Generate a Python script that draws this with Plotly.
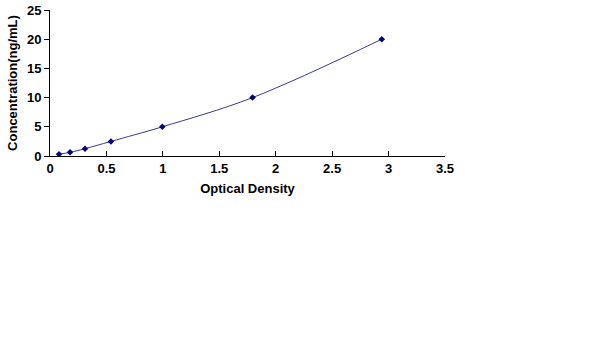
import plotly.graph_objects as go

od = [0.08, 0.177, 0.31, 0.54, 0.995, 1.795, 2.94]
conc = [0.312, 0.625, 1.25, 2.5, 5, 10, 20]
x_ticks = [0, 0.5, 1, 1.5, 2, 2.5, 3, 3.5]
x_tick_labels = ["0", "0.5", "1", "1.5", "2", "2.5", "3", "3.5"]
y_ticks = [0, 5, 10, 15, 20, 25]
y_tick_labels = ["0", "5", "10", "15", "20", "25"]

fig = go.Figure()
fig.add_trace(go.Scatter(
    x=od, y=conc, mode="lines+markers",
    line=dict(color="#3a3a8c", width=1, shape="spline"),
    marker=dict(symbol="diamond", size=5, color="#000080"),
    showlegend=False,
))

font = dict(family="Liberation Sans, Arial, sans-serif", size=13, color="black")

def b(s):
    return "<b>" + s + "</b>"

fig.update_layout(
    width=600, height=337,
    margin=dict(l=50, r=155, t=10, b=181, autoexpand=False),
    paper_bgcolor="white", plot_bgcolor="white",
    font=font,
    xaxis=dict(
        range=[0, 3.5], tickvals=x_ticks, ticktext=[b(t) for t in x_tick_labels],
        showgrid=False, zeroline=False, showline=True, linecolor="black", linewidth=1,
        ticks="inside", ticklen=5, tickcolor="black", tickfont=font,
        title=dict(text=b("Optical Density"), font=font, standoff=9),
    ),
    yaxis=dict(
        range=[0, 25], tickvals=y_ticks, ticktext=[b(t) for t in y_tick_labels],
        showgrid=False, zeroline=False, showline=True, linecolor="black", linewidth=1,
        ticks="outside", ticklen=5, tickcolor="black", tickfont=font,
        title=dict(text=b("Concentration(ng/mL)"), font=font, standoff=6),
    ),
)

fig.write_html("out.html")
